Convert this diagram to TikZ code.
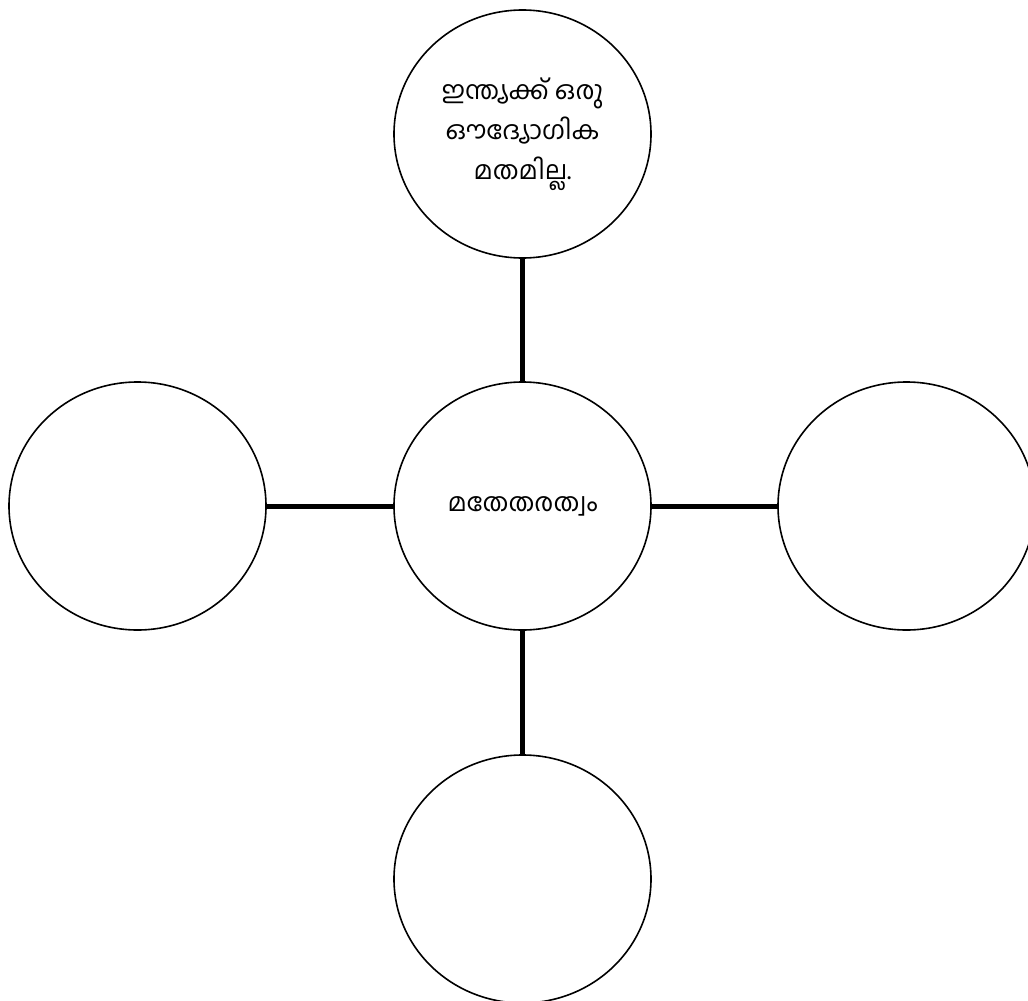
\documentclass[tikz,border=0pt]{standalone}
\usepackage{fontspec}
\newfontfamily\mlfont[Script=Malayalam]{Hind Kochi}
\usetikzlibrary{shapes.geometric}
\begin{document}
\begin{tikzpicture}[x=1pt,y=-1pt,
  bubble/.style={ellipse,draw,line width=1.6pt,minimum width=257pt,minimum height=248pt,inner sep=0pt,align=center,font=\mlfont\fontsize{25.5}{40}\selectfont},
  link/.style={line width=5pt}]
\useasboundingbox (0,0) rectangle (1028,1001);
\node[bubble] (top) at (522.5,134) {ഇന്ത്യക്ക് ഒരു\\ഔദ്യോഗിക\\മതമില്ല.};
\node[bubble] (mid) at (522.5,506) {മതേതരത്വം};
\node[bubble] (left) at (137.5,506) {};
\node[bubble] (right) at (906.5,506) {};
\node[bubble] (bot) at (522.5,879) {};
\draw[link] (top.south) -- (mid.north);
\draw[link] (mid.south) -- (bot.north);
\draw[link] (left.east) -- (mid.west);
\draw[link] (mid.east) -- (right.west);
\end{tikzpicture}
\end{document}
